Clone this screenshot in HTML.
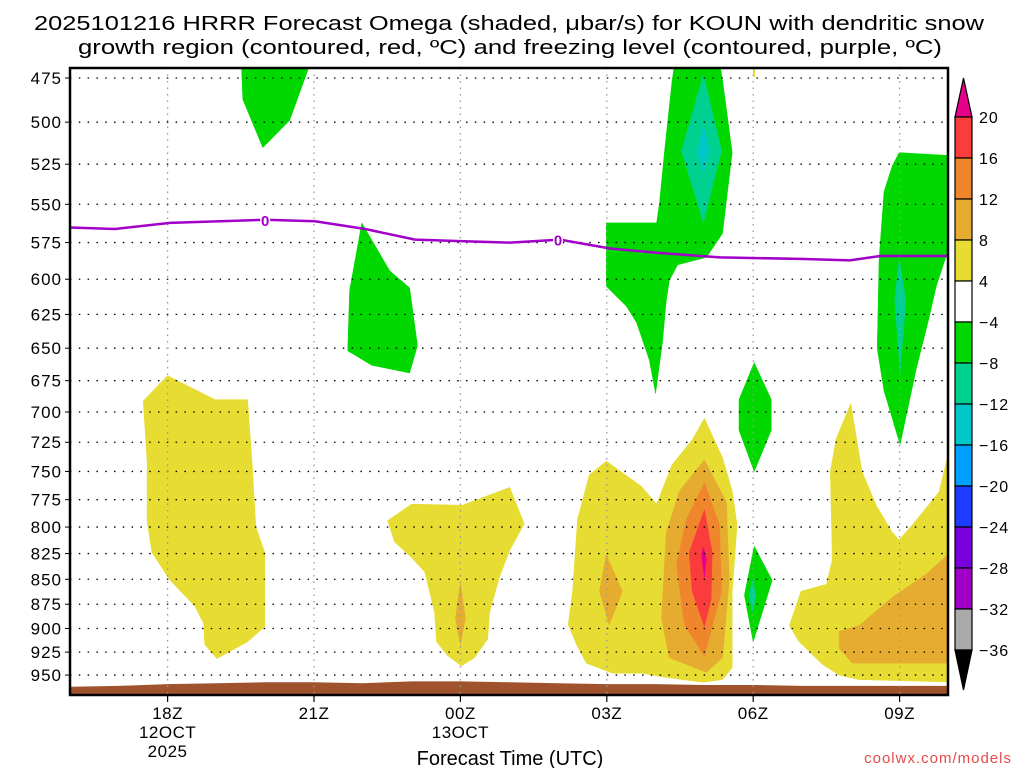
<!DOCTYPE html>
<html><head><meta charset="utf-8"><style>
html,body{margin:0;padding:0;background:#fff;width:1024px;height:768px;overflow:hidden}
svg{display:block;font-family:"Liberation Sans",sans-serif}
</style></head><body>
<svg id="chart" width="1024" height="768" viewBox="0 0 1024 768" xmlns="http://www.w3.org/2000/svg">
<text x="34" y="30" font-size="20" textLength="950" lengthAdjust="spacingAndGlyphs">2025101216 HRRR Forecast Omega (shaded, μbar/s) for KOUN with dendritic snow</text>
<text x="78" y="54" font-size="20" textLength="864" lengthAdjust="spacingAndGlyphs">growth region (contoured, red, ºC) and freezing level (contoured, purple, ºC)</text>
<text x="510" y="765" font-size="20" text-anchor="middle">Forecast Time (UTC)</text>
<text x="1012" y="763" font-size="15" fill="#e84a4a" text-anchor="end" letter-spacing="1">coolwx.com/models</text>
<g id="plot"></g>
<g id="cbar"></g>
</svg>
<script>
// ---- data ----
const pressureTicks=[475,500,525,550,575,600,625,650,675,700,725,750,775,800,825,850,875,900,925,950];
const timeTickHours=[2,5,8,11,14,17];
const timeTickLabels=[["18Z","12OCT","2025"],["21Z"],["00Z","13OCT"],["03Z"],["06Z"],["09Z"]];
const freezeHours=[0,0.92,2.05,4.0,5.02,6.05,7.07,8.0,9.02,10.04,11.07,12.09,13.32,14.96,15.98,16.6,18];
const freezeP=[565,566,562,560,561,566,573,574,575,573,579,582,585,586,587,584,584];
const freezeLabelHours=[4.0,10.0];
const terrainHours=[0,1,2,3,4,5,6,7,8,9,10,11,12,13,14,15,16,17,18];
const terrainP=[963,962,960,959,958,958,959,957,957,958,959,960,960,961,961,962,962,962,962];
const cbarLevels=["20","16","12","8","4","-4","-8","-12","-16","-20","-24","-28","-32","-36"];
const cbarColors=["#fa3c3c","#f0862c","#e6ac30","#e6dc32","#ffffff","#00d800","#00d090","#00c8c8","#00a0ff","#1e3cff","#7800dc","#a000c8","#aaaaaa"];
// shaded regions: [color, hours[], pressures[]]
const regions=[
 ["#e6dc32",[1.5,2.0,2.97,3.64,3.73,3.81,3.99,3.99,3.64,3.01,2.76,2.74,2.56,2.05,1.68,1.58,1.58],[691,671,690,690,741,800,824,898,914,932,917,895,877,851,824,795,741]],
 ["#e6dc32",[6.51,7.0,8.04,9.01,9.31,9.01,8.8,8.6,8.56,8.29,8.02,7.74,7.51,7.47,7.27,7.0,6.65],[794,779,780,764,797,822,848,883,911,931,940,929,914,883,843,829,814]],
 ["#e6ac30",[8.0,8.1,8.0,7.9],[853,890,917,890]],
 ["#00d800",[3.5,3.54,3.95,4.5,5.02],[460,487,515,499,460]],
 ["#00d800",[5.98,6.55,6.96,7.12,6.96,6.18,5.69,5.73],[562,594,606,648,669,663,652,608]],
 ["#00d800",[10.99,12.02,12.08,12.18,12.34,12.43,13.27,13.37,13.57,13.37,13.04,12.45,12.28,12.22,12.14,12.0,11.87,11.61,11.4,10.99],[562,562,549,518,476,460,460,476,518,569,585,590,601,615,646,685,659,631,619,605]],
 ["#00d090",[12.98,13.35,12.98,12.53],[473,517,562,517]],
 ["#00c8c8",[12.98,13.1,12.98,12.86],[502,517,530,517]],
 ["#00d800",[16.99,18.2,18.2,17.75,17.6,17.34,17.01,16.68,16.54,16.58,16.68,16.85],[518,520,560,605,628,666,727,683,650,586,542,526]],
 ["#00d090",[16.99,17.13,17.01,16.9],[586,615,668,615]],
 ["#00d800",[14.02,14.37,14.37,14.02,13.71,13.71],[661,690,715,750,715,690]],
 ["#00d800",[14.02,14.39,14.0,13.82],[818,851,914,866]],
 ["#00d090",[13.98,14.06,13.98,13.92],[850,866,883,866]],
 ["#e6dc32",[10.21,10.3,10.4,10.64,10.99,11.71,12.02,12.34,12.75,13.0,13.37,13.57,13.67,13.57,13.57,13.37,12.96,12.14,11.73,11.12,10.58,10.38],[896,862,793,753,741,763,779,744,723,705,738,767,798,863,942,955,958,952,948,948,937,917]],
 ["#e6ac30",[13.0,13.45,13.51,13.37,13.04,12.28,12.12,12.22,12.49],[740,777,850,931,947,931,890,805,767]],
 ["#f0862c",[13.0,13.31,13.35,13.0,12.59,12.43,12.63],[760,798,862,929,896,836,793]],
 ["#fa3c3c",[13.0,13.16,13.14,13.0,12.75,12.69],[784,824,870,898,862,824]],
 ["#e6008a",[12.98,13.04,13.0,12.94],[819,830,848,826]],
 ["#e6ac30",[10.99,11.32,11.05,10.85],[826,862,896,862]],
 ["#e6dc32",[14.74,14.98,15.5,15.62,15.58,15.7,16.0,16.23,16.52,16.85,16.99,17.26,17.81,18.2,18.2,16.17,15.76,15.41,14.94],[897,862,855,831,750,722,693,750,780,805,812,798,768,700,958,955,950,938,914]],
 ["#e6ac30",[15.76,16.17,16.85,17.54,18.2,18.2,16.03,15.76],[903,897,868,845,817,937,937,921]]
];
// ---- axes ----
const X0=70,X1=948,Y0=68,Y1=695;
function xs(h){return X0+h*48.8;}
function ys(p){return 78+861.4*Math.log(p/475);}
const NS="http://www.w3.org/2000/svg";
function mk(tag,attrs,parent){const e=document.createElementNS(NS,tag);for(const k in attrs)e.setAttribute(k,attrs[k]);parent.appendChild(e);return e;}
const plot=document.getElementById('plot');
const cp=mk('clipPath',{id:'clip'},plot);mk('rect',{x:X0,y:Y0,width:X1-X0,height:Y1-Y0},cp);
const inner=mk('g',{'clip-path':'url(#clip)'},plot);
regions.forEach((r,i)=>{
 const pts=r[1].map((h,j)=>xs(h).toFixed(1)+','+ys(r[2][j]).toFixed(1)).join(' ');
 const el=mk('polygon',{points:pts,fill:r[0],'stroke':r[0],'stroke-width':0.5,'stroke-linejoin':'round'},inner);
 
 
});
// terrain
let tp='M'+xs(terrainHours[0])+','+(Y1+2);
terrainHours.forEach((h,i)=>{tp+=' L'+xs(h).toFixed(1)+','+ys(terrainP[i]).toFixed(1);});
tp+=' L'+xs(terrainHours[terrainHours.length-1])+','+(Y1+2)+' Z';
const terr=mk('path',{d:tp,fill:'#a0522d'},inner);


// grid
pressureTicks.forEach(p=>{
 const y=ys(p);
 const g=mk('line',{x1:X0,x2:X1,y1:y,y2:y,stroke:'#000','stroke-width':1.3,'stroke-dasharray':'1.5,7.3'},inner);
 
 
 mk('line',{x1:X0-5,x2:X0,y1:y,y2:y,stroke:'#000','stroke-width':1},plot);
 const t=mk('text',{x:X0-8,y:y+6,'font-size':17,'text-anchor':'end','letter-spacing':'1'},plot);
 t.textContent=p;
 
 
});
timeTickHours.forEach((h,i)=>{
 const x=xs(h);
 const g=mk('line',{x1:x,x2:x,y1:Y0,y2:Y1,stroke:'#999','stroke-width':1.3,'stroke-dasharray':'1.5,5'},inner);
 
 
 mk('line',{x1:x,x2:x,y1:Y1,y2:Y1+7,stroke:'#000','stroke-width':1.2},plot);
 timeTickLabels[i].forEach((s,k)=>{
  const t=mk('text',{x:x,y:Y1+24+k*19,'font-size':17,'text-anchor':'middle','letter-spacing':'0.5'},plot);
  t.textContent=s;
  
  
 });
});
// freezing level
const fl=mk('polyline',{points:freezeHours.map((h,i)=>xs(h).toFixed(1)+','+ys(freezeP[i]).toFixed(1)).join(' '),fill:'none',stroke:'#a000c8','stroke-width':2.5},inner);


function interpP(h){for(let i=1;i<freezeHours.length;i++){if(h<=freezeHours[i]){const f=(h-freezeHours[i-1])/(freezeHours[i]-freezeHours[i-1]);return freezeP[i-1]+f*(freezeP[i]-freezeP[i-1]);}}return freezeP[freezeP.length-1];}
freezeLabelHours.forEach(h=>{
 const x=xs(h),y=ys(interpP(h));
 mk('rect',{x:x-5,y:y-8,width:10,height:16,fill:'#fff'},inner);
 const t=mk('text',{x:x,y:y+6,'font-size':15,'font-weight':'bold',fill:'#a000c8','text-anchor':'middle'},inner);
 t.textContent='0';
 
 
});
mk('rect',{x:753,y:69,width:2,height:8,fill:'#e6dc32'},inner);
const fr=mk('rect',{x:X0,y:Y0,width:X1-X0,height:Y1-Y0,fill:'none',stroke:'#000','stroke-width':2.5},plot);


// colorbar
const cb=document.getElementById('cbar');
const CBX=955,CBW=17,CBT=117,STEP=41;
const up=mk('polygon',{points:`${CBX},${CBT} ${CBX+CBW/2},78 ${CBX+CBW},${CBT}`,fill:'#e6008a',stroke:'#000','stroke-width':1.2},cb);


cbarColors.forEach((c,i)=>{
 const r=mk('rect',{x:CBX,y:CBT+i*STEP,width:CBW,height:STEP,fill:c,stroke:'#000','stroke-width':1.2},cb);
 
 
});
const bot=CBT+cbarColors.length*STEP;
const dn=mk('polygon',{points:`${CBX},${bot} ${CBX+CBW/2},690 ${CBX+CBW},${bot}`,fill:'#000',stroke:'#000','stroke-width':1.2},cb);


cbarLevels.forEach((s,i)=>{
 const t=mk('text',{x:979,y:CBT+i*STEP+6,'font-size':16,'letter-spacing':'1'},cb);
 t.textContent=s.replace('-','−');
 
 
});
</script>
</body></html>
